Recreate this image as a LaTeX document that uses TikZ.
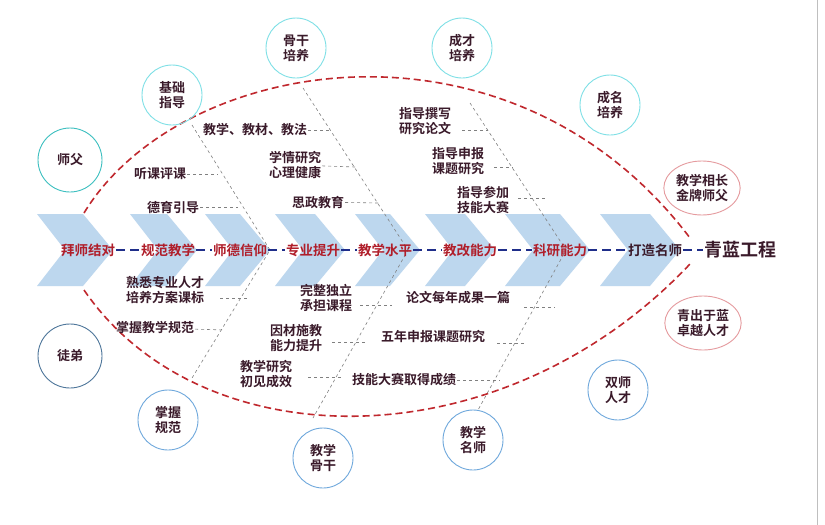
\documentclass[tikz,border=0pt]{standalone}
\usetikzlibrary{shapes.geometric}
\usepackage{fontspec}
\newfontfamily\cjk{Noto Sans CJK SC Bold}
\definecolor{chev}{HTML}{BDD7EE}
\definecolor{txt}{HTML}{3A1A2A}
\definecolor{redt}{HTML}{B01E2A}
\definecolor{leaf}{HTML}{C0282E}
\definecolor{navy}{HTML}{1F2E8A}
\definecolor{cyanc}{HTML}{7FE0E6}
\definecolor{tealc}{HTML}{3CBFC0}
\definecolor{bluec}{HTML}{6FA8DC}
\definecolor{pinkc}{HTML}{E59A9E}
\begin{document}
\begin{tikzpicture}[x=1pt,y=-1pt,
  every node/.style={font=\cjk\fontsize{13}{15}\selectfont, text=txt, align=center, inner sep=1pt},
  spine/.style={text=redt, font=\cjk\fontsize{13.5}{15}\selectfont},
  bubble/.style={circle, draw=cyanc, line width=0.9pt, minimum size=60pt},
  oval/.style={ellipse, draw=pinkc, line width=0.9pt, minimum width=74pt, minimum height=54pt},
  bone/.style={draw=gray, dashed, line width=0.6pt},
  tick/.style={draw=gray, dashed, line width=0.6pt},
  leafline/.style={draw=leaf, line width=1.6pt, dash pattern=on 7pt off 4pt}]
\useasboundingbox (0,0) rectangle (825,525);
\fill[white] (0,0) rectangle (825,525);
\draw[gray!50, line width=0.8pt] (817,0) -- (817,525);
% chevrons
\foreach \a/\b in {37/113,130/197,205/270,275/345,355/420,425/495,505/590,600/680}{
  \fill[chev] (\a,214) -- (\b-30,214) -- (\b,250) -- (\b-30,286) -- (\a,286) -- (\a+28,250) -- cycle;
}
% leaf outline
\coordinate (L1) at (84,213);
\coordinate (R1) at (690,238);
\coordinate (L2) at (84,290);
\coordinate (R2) at (690,264);
\draw[leafline] (L1) .. controls (180,55) and (510,0) .. (R1);
\draw[leafline] (L2) .. controls (200,460) and (500,465) .. (R2);
% bones
\coordinate (u1a) at (192,125); \coordinate (u1b) at (270,250);
\coordinate (u2a) at (303,88);  \coordinate (u2b) at (408,250);
\coordinate (u3a) at (470,103); \coordinate (u3b) at (566,250);
\coordinate (d1b) at (192,378);
\coordinate (d2b) at (313,418);
\coordinate (d3b) at (478,410);
\draw[bone] (u1a) -- (u1b) -- (d1b);
\draw[bone] (u2a) -- (u2b) -- (d2b);
\draw[bone] (u3a) -- (u3b) -- (d3b);
% spine nodes
\node[spine] (s1) at (88,250) {拜师结对};
\node[spine] (s2) at (168,250) {规范教学};
\node[spine] (s3) at (240,250) {师德信仰};
\node[spine] (s4) at (313,250) {专业提升};
\node[spine] (s5) at (385,250) {教学水平};
\node[spine] (s6) at (470,250) {教改能力};
\node[spine] (s7) at (560,250) {科研能力};
\node[spine, text=txt] (s8) at (655,250) {打造名师};
\node[font=\cjk\fontsize{18}{20}\selectfont] (s9) at (740,250) {青蓝工程};
\foreach \p/\q in {s1/s2,s2/s3,s3/s4,s4/s5,s5/s6,s6/s7,s7/s8,s8/s9}
  \draw[navy, line width=1.3pt, dash pattern=on 9pt off 5pt] (\p) -- (\q);
% upper labels
\node (a1) at (160,174) {听课评课};
\coordinate (a1e) at (218,174); \draw[tick] (a1) -- (a1e);
\node (a2) at (173,207) {德育引导};
\coordinate (a2e) at (238,207); \draw[tick] (a2) -- (a2e);
\node (a3) at (255,130) {教学、教材、教法};
\coordinate (a3e) at (331,130); \draw[tick] (a3) -- (a3e);
\node (a4) at (295,165) {学情研究\\心理健康};
\coordinate (a4e) at (355,167); \draw[tick] (a4) -- (a4e);
\node (a5) at (318,202) {思政教育};
\coordinate (a5e) at (378,203); \draw[tick] (a5) -- (a5e);
\node (a6) at (425,121) {指导撰写\\研究论文};
\coordinate (a6e) at (488,130); \draw[tick] (462,130) -- (a6e);
\node (a7) at (458,161) {指导申报\\课题研究};
\coordinate (a7e) at (513,167); \draw[tick] (494,167) -- (a7e);
\node (a8) at (483,200) {指导参加\\技能大赛};
\coordinate (a8e) at (546,198); \draw[tick] (518,198) -- (a8e);
% lower labels
\node (b1) at (165,290) {熟悉专业人才\\培养方案课标};
\coordinate (b1e) at (248,298); \draw[tick] (220,298) -- (b1e);
\node (b2) at (155,328) {掌握教学规范};
\coordinate (b2e) at (225,330); \draw[tick] (b2) -- (b2e);
\node (b3) at (326,298) {完整独立\\承担课程};
\coordinate (b3e) at (392,305); \draw[tick] (360,305) -- (b3e);
\node (b4) at (296,338) {因材施教\\能力提升};
\coordinate (b4e) at (366,342); \draw[tick] (332,342) -- (b4e);
\node (b5) at (266,374) {教学研究\\初见成效};
\coordinate (b5e) at (342,377); \draw[tick] (308,377) -- (b5e);
\node (b6) at (458,298) {论文每年成果一篇};
\coordinate (b6e) at (555,307); \draw[tick] (524,307) -- (b6e);
\node (b7) at (433,337) {五年申报课题研究};
\coordinate (b7e) at (527,343); \draw[tick] (497,343) -- (b7e);
\node (b8) at (404,380) {技能大赛取得成绩};
\coordinate (b8e) at (500,380); \draw[tick] (b8) -- (b8e);
% bubbles
\node[bubble, draw=tealc, minimum size=64pt] (c1) at (70,160) {师父};
\node[bubble] (c2) at (172,95) {基础\\指导};
\node[bubble] (c3) at (296,48) {骨干\\培养};
\node[bubble] (c4) at (462,48) {成才\\培养};
\node[bubble] (c5) at (610,105) {成名\\培养};
\node[oval] (c6) at (702,188) {教学相长\\金牌师父};
\node[oval] (c7) at (703,323) {青出于蓝\\卓越人才};
\node[bubble, draw=bluec] (c8) at (618,390) {双师\\人才};
\node[bubble, draw=bluec] (c9) at (473,440) {教学\\名师};
\node[bubble, draw=bluec] (c10) at (323,458) {教学\\骨干};
\node[bubble, draw=bluec] (c11) at (168,420) {掌握\\规范};
\node[bubble, draw=bluec!70!black, minimum size=64pt] (c12) at (70,356) {徒弟};
\end{tikzpicture}
\end{document}
